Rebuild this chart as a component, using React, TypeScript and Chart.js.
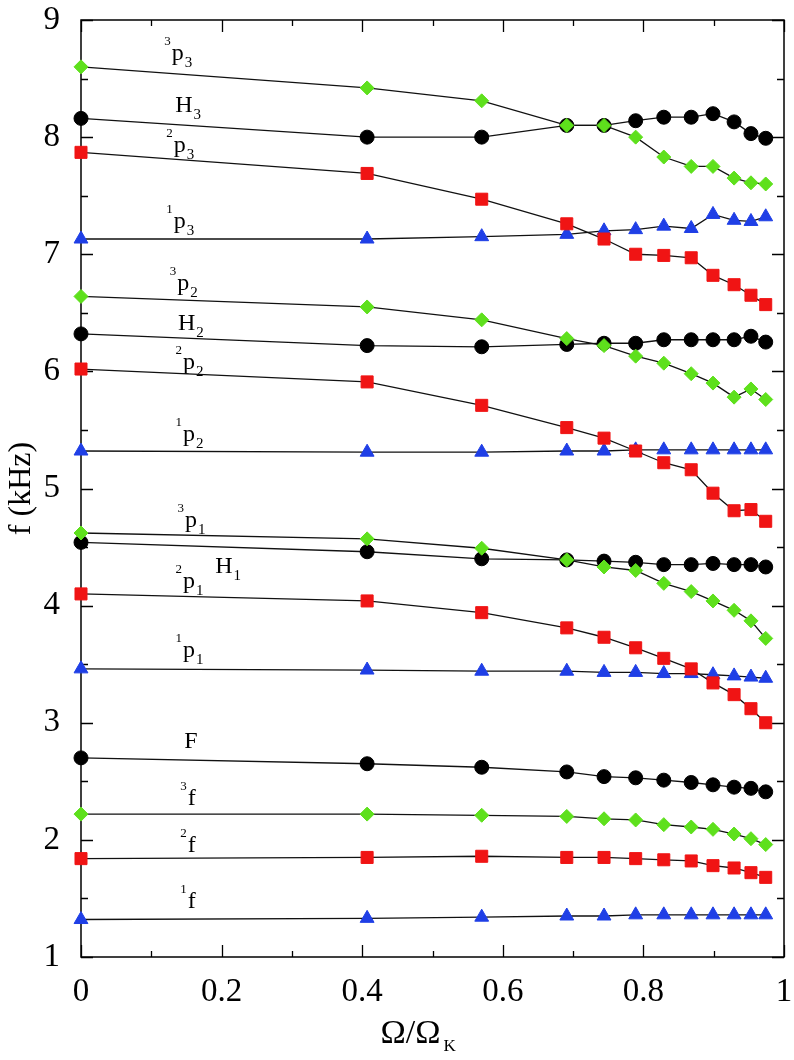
import React, { useEffect, useRef } from 'react';
import { Chart, registerables } from 'chart.js';

Chart.register(...registerables);

// Ω/Ω_K sample positions
const omega = [0, 0.407, 0.57, 0.691, 0.744, 0.789, 0.829, 0.868, 0.899, 0.929, 0.953, 0.974];

// frequencies in kHz
const p3_3 = [8.60, 8.42, 8.31, 8.10, 8.10, 8.00, 7.83, 7.75, 7.75, 7.65, 7.61, 7.60];
const H3 = [8.16, 8.00, 8.00, 8.10, 8.10, 8.14, 8.17, 8.17, 8.20, 8.13, 8.03, 7.99];
const p3_2 = [7.87, 7.69, 7.47, 7.26, 7.13, 7.00, 6.99, 6.97, 6.82, 6.74, 6.65, 6.57];
const p3_1 = [7.13, 7.13, 7.15, 7.17, 7.20, 7.21, 7.24, 7.22, 7.34, 7.29, 7.28, 7.32];
const p2_3 = [6.64, 6.55, 6.44, 6.28, 6.22, 6.13, 6.07, 5.98, 5.90, 5.78, 5.85, 5.76];
const H2 = [6.32, 6.22, 6.21, 6.23, 6.24, 6.24, 6.27, 6.27, 6.27, 6.27, 6.30, 6.25];
const p2_2 = [6.02, 5.91, 5.71, 5.52, 5.43, 5.32, 5.22, 5.16, 4.96, 4.81, 4.82, 4.72];
const p2_1 = [5.32, 5.31, 5.31, 5.32, 5.32, 5.33, 5.33, 5.33, 5.33, 5.33, 5.33, 5.33];
const p1_3 = [4.62, 4.57, 4.49, 4.39, 4.33, 4.30, 4.19, 4.12, 4.04, 3.96, 3.87, 3.72];
const H1 = [4.54, 4.46, 4.40, 4.39, 4.38, 4.37, 4.35, 4.35, 4.36, 4.35, 4.35, 4.33];
const p1_2 = [4.10, 4.04, 3.94, 3.81, 3.73, 3.64, 3.55, 3.46, 3.34, 3.24, 3.12, 3.00];
const p1_1 = [3.46, 3.45, 3.44, 3.44, 3.43, 3.43, 3.42, 3.42, 3.41, 3.40, 3.39, 3.38];
const F = [2.70, 2.65, 2.62, 2.58, 2.54, 2.53, 2.51, 2.49, 2.47, 2.45, 2.44, 2.41];
const f3 = [2.22, 2.22, 2.21, 2.20, 2.18, 2.17, 2.13, 2.11, 2.09, 2.05, 2.01, 1.96];
const f2 = [1.84, 1.85, 1.86, 1.85, 1.85, 1.84, 1.83, 1.82, 1.78, 1.76, 1.72, 1.68];
const f1 = [1.32, 1.33, 1.34, 1.35, 1.35, 1.36, 1.36, 1.36, 1.36, 1.36, 1.36, 1.36];

const seriesNames = ['3p3', 'H3', '2p3', '1p3', '3p2', 'H2', '2p2', '1p2', '3p1', 'H1', '2p1', '1p1', 'F', '3f', '2f', '1f'];
const seriesValues = [p3_3, H3, p3_2, p3_1, p2_3, H2, p2_2, p2_1, p1_3, H1, p1_2, p1_1, F, f3, f2, f1];
const seriesKinds = ['g', 'k', 'r', 'b', 'g', 'k', 'r', 'b', 'g', 'k', 'r', 'b', 'k', 'g', 'r', 'b'];

// axis ticks
const xMajorTicks = [0, 0.2, 0.4, 0.6, 0.8, 1];
const yMajorTicks = [1, 2, 3, 4, 5, 6, 7, 8, 9];

// curve labels: superscript, main letter, subscript, anchored in data coords
const curveLabels = [
  { sup: '3', main: 'p', sub: '3', x: 0.129, y: 8.66 },
  { sup: '', main: 'H', sub: '3', x: 0.134, y: 8.214 },
  { sup: '2', main: 'p', sub: '3', x: 0.132, y: 7.873 },
  { sup: '1', main: 'p', sub: '3', x: 0.132, y: 7.224 },
  { sup: '3', main: 'p', sub: '2', x: 0.137, y: 6.694 },
  { sup: '', main: 'H', sub: '2', x: 0.138, y: 6.353 },
  { sup: '2', main: 'p', sub: '2', x: 0.145, y: 6.017 },
  { sup: '1', main: 'p', sub: '2', x: 0.145, y: 5.405 },
  { sup: '3', main: 'p', sub: '1', x: 0.148, y: 4.67 },
  { sup: '2', main: 'p', sub: '1', x: 0.145, y: 4.149 },
  { sup: '', main: 'H', sub: '1', x: 0.191, y: 4.278 },
  { sup: '1', main: 'p', sub: '1', x: 0.145, y: 3.56 },
  { sup: '', main: 'F', sub: '', x: 0.147, y: 2.783 },
  { sup: '3', main: 'f', sub: '', x: 0.152, y: 2.296 },
  { sup: '2', main: 'f', sub: '', x: 0.152, y: 1.895 },
  { sup: '1', main: 'f', sub: '', x: 0.152, y: 1.417 },
];

const SERIF = '"Liberation Serif", "Times New Roman", Times, serif';

const kindStyle: Record<string, { color: string; border: string; style: string; radius: number }> = {
  g: { color: '#5ee01c', border: '#5ee01c', style: 'rectRot', radius: 7 },
  k: { color: '#000000', border: '#000000', style: 'circle', radius: 7 },
  r: { color: '#f01414', border: '#f01414', style: 'rect', radius: 8.5 },
  b: { color: '#1f3fe6', border: '#1f3fe6', style: 'triangle', radius: 8 },
};

const decorPlugin = {
  id: 'decor',
  beforeDatasetsDraw(chart: any) {
    const { ctx, chartArea } = chart;
    const xs = chart.scales.x;
    const ys = chart.scales.y;
    const { left, right, top, bottom } = chartArea;
    ctx.save();
    ctx.strokeStyle = '#000';
    ctx.lineWidth = 1.5;
    ctx.strokeRect(left, top, right - left, bottom - top);
    ctx.lineWidth = 1.3;
    ctx.beginPath();
    for (let i = 0; i <= 10; i++) {
      const v = i / 10;
      const px = Math.round(xs.getPixelForValue(v)) + 0.5;
      const len = i % 2 === 0 ? 12 : 6;
      ctx.moveTo(px, bottom);
      ctx.lineTo(px, bottom - len);
      ctx.moveTo(px, top);
      ctx.lineTo(px, top + len);
    }
    for (let i = 0; i <= 16; i++) {
      const v = 1 + i / 2;
      const py = Math.round(ys.getPixelForValue(v)) + 0.5;
      const len = i % 2 === 0 ? 12 : 7;
      ctx.moveTo(left, py);
      ctx.lineTo(left + len, py);
      ctx.moveTo(right, py);
      ctx.lineTo(right - len, py);
    }
    ctx.stroke();

    // curve labels
    ctx.fillStyle = '#000';
    ctx.textBaseline = 'alphabetic';
    for (const lab of curveLabels) {
      const px = xs.getPixelForValue(lab.x);
      const py = ys.getPixelForValue(lab.y);
      ctx.font = `24px ${SERIF}`;
      ctx.textAlign = 'left';
      ctx.fillText(lab.main, px, py);
      const w = ctx.measureText(lab.main).width;
      if (lab.sup) {
        ctx.font = `13px ${SERIF}`;
        ctx.textAlign = 'right';
        ctx.fillText(lab.sup, px - 1, py - 15);
      }
      if (lab.sub) {
        ctx.font = `15px ${SERIF}`;
        ctx.textAlign = 'left';
        ctx.fillText(lab.sub, px + w + 1, py + 7);
      }
    }
    ctx.restore();
  },
  afterDraw(chart: any) {
    const { ctx, chartArea } = chart;
    ctx.save();
    ctx.fillStyle = '#000';
    ctx.translate(22, (chartArea.top + chartArea.bottom) / 2);
    ctx.rotate(-Math.PI / 2);
    ctx.font = `32px ${SERIF}`;
    ctx.textAlign = 'center';
    ctx.textBaseline = 'middle';
    ctx.fillText('f (kHz)', 0, 0);
    ctx.restore();

    ctx.save();
    ctx.fillStyle = '#000';
    ctx.textBaseline = 'alphabetic';
    ctx.font = `34px ${SERIF}`;
    const main = 'Ω/Ω';
    const mw = ctx.measureText(main).width;
    const cx = (chartArea.left + chartArea.right) / 2;
    const startX = cx - 52;
    ctx.textAlign = 'left';
    ctx.fillText(main, startX, 1043);
    ctx.font = `17px ${SERIF}`;
    ctx.fillText('K', startX + mw + 3, 1051);
    ctx.restore();
  },
};

export default function App() {
  const canvasRef = useRef<HTMLCanvasElement | null>(null);

  useEffect(() => {
    if (!canvasRef.current) return;
    const datasets = seriesValues.map((vals, i) => {
      const st = kindStyle[seriesKinds[i]];
      return {
        label: seriesNames[i],
        data: vals.map((v, j) => ({ x: omega[j], y: v })),
        borderColor: '#111',
        borderWidth: 1.3,
        pointStyle: st.style,
        pointRadius: st.radius,
        pointBackgroundColor: st.color,
        pointBorderColor: st.border,
        pointBorderWidth: 1,
        tension: 0,
        fill: false,
        clip: false as any,
      };
    });

    const chart = new Chart(canvasRef.current, {
      type: 'line',
      data: { datasets },
      options: {
        animation: false,
        responsive: true,
        maintainAspectRatio: false,
        layout: { padding: { left: 0, top: 20, right: 10, bottom: 0 } },
        plugins: {
          legend: { display: false },
          tooltip: { enabled: false },
          title: { display: false },
        },
        scales: {
          x: {
            type: 'linear',
            min: 0,
            max: 1,
            afterBuildTicks: (scale: any) => {
              scale.ticks = xMajorTicks.map((v) => ({ value: v }));
            },
            afterFit: (scale: any) => {
              scale.height = 103;
              scale.paddingLeft = 0;
              scale.paddingRight = 0;
            },
            grid: { display: false, drawTicks: false },
            border: { display: false },
            ticks: {
              color: '#000',
              padding: 16,
              maxRotation: 0,
              autoSkip: false,
              font: { family: SERIF, size: 33 },
              callback: (v: any) => String(Number(v)),
            },
          },
          y: {
            type: 'linear',
            min: 1,
            max: 9,
            afterBuildTicks: (scale: any) => {
              scale.ticks = yMajorTicks.map((v) => ({ value: v }));
            },
            afterFit: (scale: any) => {
              scale.width = 81;
              scale.paddingTop = 0;
              scale.paddingBottom = 0;
            },
            grid: { display: false, drawTicks: false },
            border: { display: false },
            ticks: {
              color: '#000',
              padding: 21,
              autoSkip: false,
              font: { family: SERIF, size: 33 },
              callback: (v: any) => String(Number(v)),
            },
          },
        },
      },
      plugins: [decorPlugin],
    });
    return () => chart.destroy();
  }, []);

  return (
    <div style={{ position: 'absolute', left: 0, top: 0, width: 794, height: 1060, background: '#fff' }}>
      <canvas ref={canvasRef} />
    </div>
  );
}
